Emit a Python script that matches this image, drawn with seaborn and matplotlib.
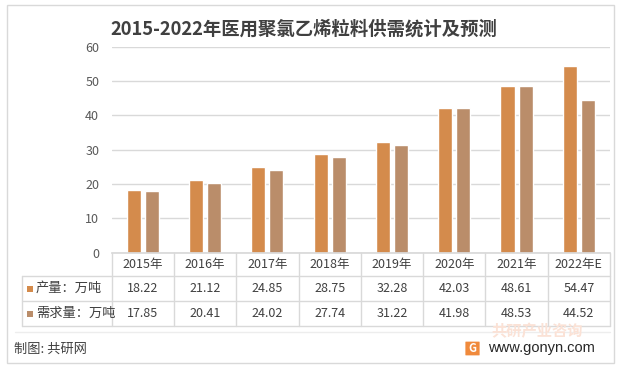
import pandas as pd
import numpy as np
import seaborn as sns
import matplotlib.pyplot as plt
from matplotlib.patches import Rectangle, FancyBboxPatch
from matplotlib.lines import Line2D
import matplotlib.transforms as mtransforms

# Dados
anos = ['2015年', '2016年', '2017年', '2018年', '2019年', '2020年', '2021年', '2022年E']
producao = [18.22, 21.12, 24.85, 28.75, 32.28, 42.03, 48.61, 54.47]
demanda = [17.85, 20.41, 24.02, 27.74, 31.22, 41.98, 48.53, 44.52]
series = ['产量：万吨', '需求量：万吨']
cores = ['#D48B4C', '#BA8D6A']
titulo = '2015-2022年医用聚氯乙烯粒料供需统计及预测'

df = pd.DataFrame({
    '年份': anos * 2,
    '指标': [series[0]] * len(anos) + [series[1]] * len(anos),
    '数值': producao + demanda,
})

sns.set_theme(style='white')
plt.rcParams['font.family'] = ['Noto Sans CJK SC', 'DejaVu Sans']

W, H = 618, 373
fx = lambda px: px / W
fy = lambda py: 1 - py / H

fig = plt.figure(figsize=(W / 100, H / 100), dpi=100)
fig.patch.set_facecolor('white')

# moldura externa
fig.add_artist(Rectangle((fx(7), fy(363)), fx(614) - fx(7), fy(5) - fy(363),
                         transform=fig.transFigure, fill=False, ec='#D9D9D9', lw=1))

ax = fig.add_axes([fx(111.7), fy(252.7), fx(610) - fx(111.7), fy(46.5) - fy(252.7)])
sns.barplot(data=df, x='年份', y='数值', hue='指标', palette=cores,
            width=0.58, gap=0.22, ax=ax, legend=False, saturation=1)
ax.set_ylim(0, 60)
ax.set_yticks(range(0, 61, 10))
ax.set_xlim(-0.5, len(anos) - 0.5)
ax.yaxis.grid(True, color='#D9D9D9', lw=1)
ax.set_axisbelow(True)
for s in ['left', 'right', 'top']:
    ax.spines[s].set_visible(False)
ax.spines['bottom'].set_color('#D9D9D9')
ax.set_xticks([])
ax.set_xlabel('')
ax.set_ylabel('')
ax.tick_params(axis='y', length=0, pad=9, labelsize=9, labelcolor='#595959')

fig.text(fx(303.5), fy(29), titulo, ha='center', va='center',
         fontsize=13.2, fontweight='bold', color='#404040')

# tabela de dados
tr = mtransforms.blended_transform_factory(ax.transData, fig.transFigure)
y_h, y_r1, y_b = fy(276), fy(301), fy(326)
grid = '#D9D9D9'
for i in range(len(anos) + 1):
    fig.add_artist(Line2D([i - 0.5, i - 0.5], [fy(252.7), y_b], transform=tr, color=grid, lw=1))
for yy in [y_h, y_r1, y_b]:
    fig.add_artist(Line2D([fx(21.7), fx(610)], [yy, yy], transform=fig.transFigure, color=grid, lw=1))
fig.add_artist(Line2D([fx(21.7), fx(21.7)], [y_h, y_b], transform=fig.transFigure, color=grid, lw=1))

for i, ano in enumerate(anos):
    fig.text(i, fy(264.5), ano, transform=tr, ha='center', va='center',
             fontsize=9, color='#404040', fontweight='medium')
    fig.text(i, fy(288.5), f'{producao[i]:.2f}', transform=tr, ha='center', va='center',
             fontsize=9, color='#404040', fontweight='medium')
    fig.text(i, fy(313.5), f'{demanda[i]:.2f}', transform=tr, ha='center', va='center',
             fontsize=9, color='#404040', fontweight='medium')

for k, (nome, cor) in enumerate(zip(series, cores)):
    yc = 288.5 + 25 * k
    fig.add_artist(Rectangle((fx(27), fy(yc + 3)), fx(6), fy(yc - 3) - fy(yc + 3),
                             transform=fig.transFigure, color=cor, lw=0))
    fig.text(fx(36), fy(yc), nome, ha='left', va='center', fontsize=9.5, color='#404040')

# rodapé
fig.add_artist(Line2D([fx(15), fx(610)], [fy(332), fy(332)], transform=fig.transFigure, color='#EDEDED', lw=1))
fig.text(fx(14), fy(349), '制图: 共研网', ha='left', va='center', fontsize=9.5, color='#404040')
fig.text(fx(537), fy(331), '共研产业咨询', ha='center', va='center', fontsize=11,
         fontweight='bold', color='#FBE2D6')
fig.add_artist(FancyBboxPatch((fx(466), fy(355)), fx(13), fy(342) - fy(355),
                              boxstyle='round,pad=0.001', transform=fig.transFigure,
                              fc='#F08A3C', ec='none'))
fig.text(fx(472.5), fy(348.5), 'G', ha='center', va='center', fontsize=8,
         fontweight='bold', color='white')
fig.text(fx(488), fy(348), 'www.gonyn.com', ha='left', va='center', fontsize=10.5,
         color='#262626', family=['Liberation Sans', 'DejaVu Sans'])

plt.savefig('out.png', dpi=100)
